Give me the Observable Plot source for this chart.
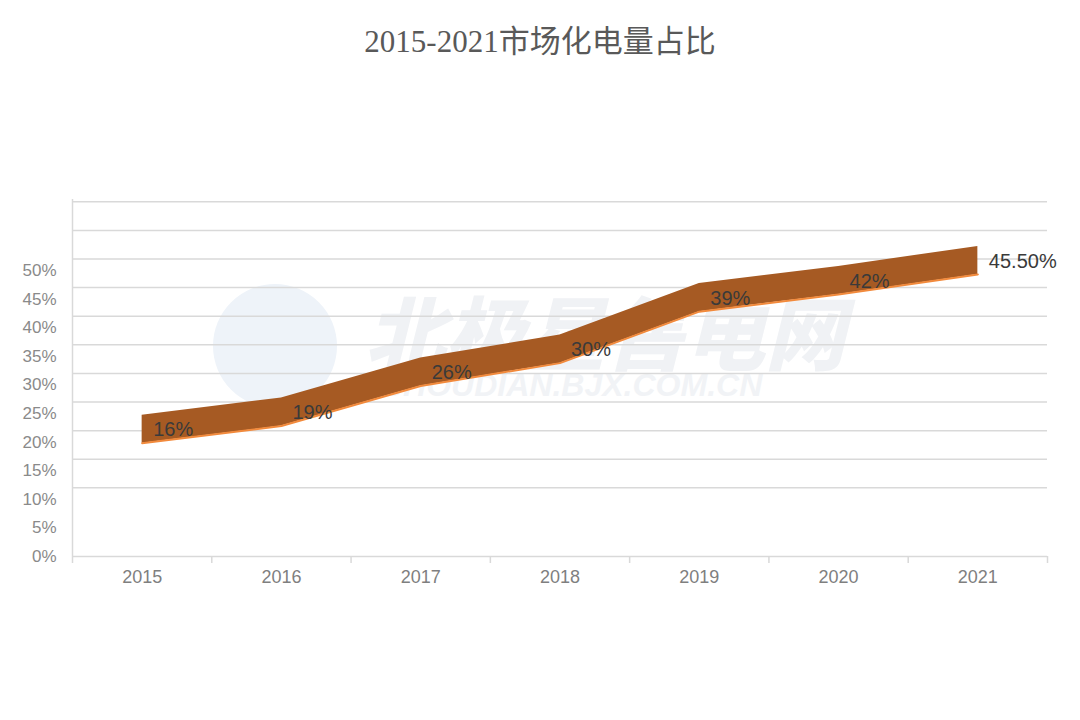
<!DOCTYPE html>
<html>
<head>
<meta charset="utf-8">
<script src="https://cdn.jsdelivr.net/npm/d3@7"></script>
<script src="https://cdn.jsdelivr.net/npm/@observablehq/plot@0.6"></script>
<style>
  body { margin: 0; background: #fff; }
  #title { height: 64px; padding-top: 6px; box-sizing: content-box; display: flex; align-items: center; justify-content: center;
    font-family: "Liberation Serif", "Noto Sans CJK SC", serif; font-size: 31px; color: #595959; }
  #chart svg { display: block; }
</style>
</head>
<body>
<div id="title">2015-2021市场化电量占比</div>
<div id="chart"></div>
<script>
const years = [2015, 2016, 2017, 2018, 2019, 2020, 2021];
const values = [16, 19, 26, 30, 39, 42, 45.5];
const labels = ["16%", "19%", "26%", "30%", "39%", "42%", "45.50%"];
const yTicks = [0, 5, 10, 15, 20, 25, 30, 35, 40, 45, 50];
const gridValues = [12, 17, 22, 27, 32, 37, 42, 47, 52, 57, 62];
const boundaries = [2014.5, 2015.5, 2016.5, 2017.5, 2018.5, 2019.5, 2020.5, 2021.5];

// 3D-style ribbon offsets (in value units)
const ribbonLow = 3.8, ribbonHigh = 8.7, labelLift = 6.1;

const data = years.map((year, i) => ({year, value: values[i], label: labels[i]}));

const grid = "#d9d9d9";
const chart = Plot.plot({
  width: 1080,
  height: 650,
  marginTop: 129,
  marginBottom: 164,
  marginLeft: 72,
  marginRight: 33,
  x: {domain: [2014.5, 2021.5], label: null},
  y: {domain: [0, 62.4], label: null},
  style: {fontFamily: "'Liberation Sans', Arial, sans-serif", background: "#fff"},
  marks: [
    // watermark
    Plot.dot([0], {frameAnchor: "middle", dx: -285, dy: -32, r: 62, fill: "#eef3f9", stroke: "none"}),
    Plot.text(["北极星售电网"], {frameAnchor: "middle", dx: 45, dy: -40, fontSize: 80, fontWeight: 900, fontStyle: "italic", fill: "#f0f2f5", fontFamily: "'Noto Sans CJK SC', sans-serif"}),
    Plot.text(["SHOUDIAN.BJX.COM.CN"], {frameAnchor: "middle", dx: 12, dy: 8, fontSize: 32, fontWeight: 700, fontStyle: "italic", fill: "#f1f3f6"}),
    // gridlines
    Plot.ruleY(gridValues, {x1: 2014.5, x2: 2021.5, stroke: grid, strokeWidth: 1.5}),
    Plot.ruleY([0], {x1: 2014.5, x2: 2021.5, stroke: grid, strokeWidth: 1.5}),
    Plot.ruleX([2014.5], {y1: 0, y2: 62.4, stroke: grid, strokeWidth: 1.5}),
    Plot.axisX({ticks: boundaries, tickSize: 7, tickFormat: () => "", stroke: grid, strokeWidth: 1.5, label: null}),
    Plot.axisX({ticks: years, tickSize: 0, tickPadding: 14, tickFormat: d => String(d), fontSize: 18, fill: "#7f7f7f", label: null}),
    Plot.axisY({ticks: yTicks, tickSize: 0, tickPadding: 16, tickFormat: d => d + "%", fontSize: 17, fill: "#8a8a8a", label: null}),
    // ribbon
    Plot.areaY(data, {x: "year", y1: d => d.value + ribbonLow, y2: d => d.value + ribbonHigh, fill: "#a65a23"}),
    Plot.lineY(data, {x: "year", y: d => d.value + ribbonLow, stroke: "#f28a3c", strokeWidth: 2}),
    // labels
    Plot.text(data, {x: "year", y: d => d.value + labelLift, text: "label", dx: 11, textAnchor: "start", fontSize: 20, fill: "#3a3a3a"})
  ]
});
document.getElementById("chart").appendChild(chart);
</script>
</body>
</html>
